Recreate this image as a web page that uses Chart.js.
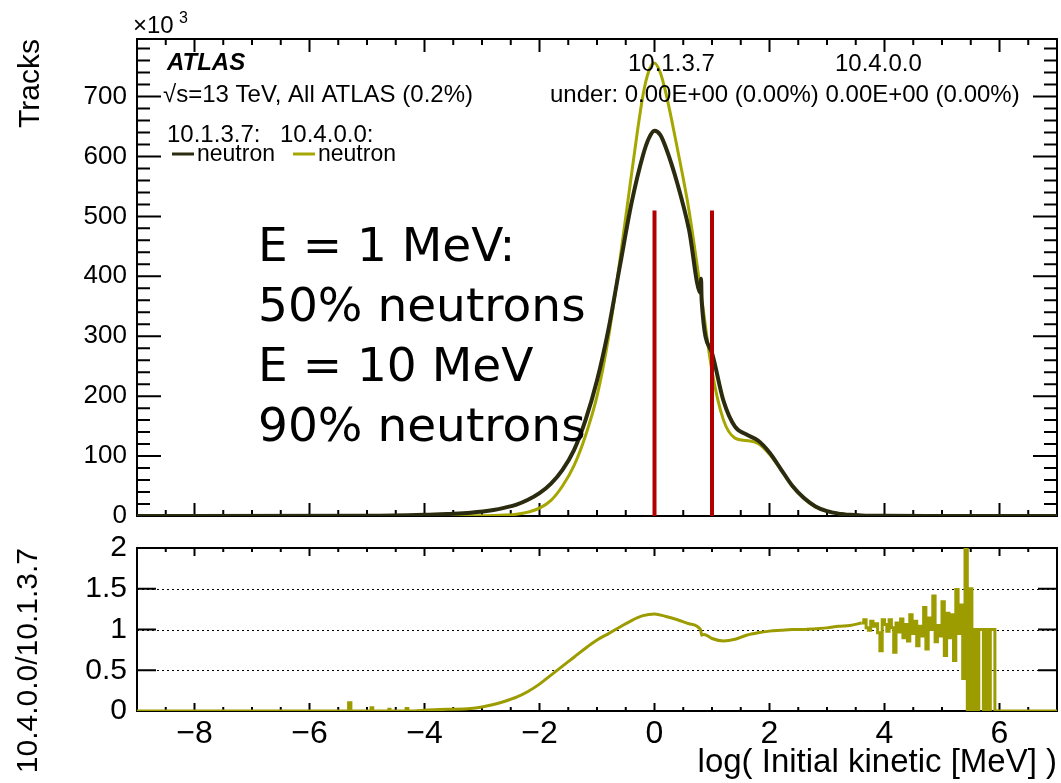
<!DOCTYPE html>
<html>
<head>
<meta charset="utf-8">
<title>neutron initial kinetic energy</title>
<script src="https://cdn.jsdelivr.net/npm/chart.js@4.4.1/dist/chart.umd.min.js"></script>
<style>
  html, body { margin: 0; padding: 0; background: #fff; }
  #wrap { position: relative; width: 1061px; height: 783px; overflow: hidden; }
  canvas { position: absolute; left: 0; }
  #main { top: 0; width: 1061px; height: 530px; }
  #ratio { top: 530px; width: 1061px; height: 253px; }
</style>
</head>
<body>
<div id="wrap">
  <canvas id="main" width="1061" height="530"></canvas>
  <canvas id="ratio" width="1061" height="253"></canvas>
</div>
<script>
// log10(E / MeV) sample points for the two releases
const logE = [-9, -5, -4, -3.6, -3.2, -2.8, -2.6, -2.4, -2.2, -2.0, -1.8, -1.6, -1.4, -1.2, -1.0,
  -0.8, -0.6, -0.4, -0.2, -0.1, 0, 0.1, 0.2, 0.4, 0.6, 0.8, 0.81, 0.82, 1.0, 1.2, 1.4, 1.6, 1.8,
  2.0, 2.2, 2.4, 2.6, 2.8, 3.0, 3.2, 3.4, 3.6, 4.0, 5.0, 7];
// tracks (x10^3)
const tracks10137 = [0, 0.3, 2, 3.5, 5.5, 10, 14, 19, 27, 38, 54, 77, 110, 160, 226,
  312, 418, 522, 602, 630, 643, 636, 614, 554, 478, 372, 396, 360, 272, 192, 149, 136, 126,
  106, 78, 50, 30, 16, 8, 4, 2, 1, 0.3, 0, 0];
const tracks10400 = [0, 0, 0.1, 0.2, 0.4, 0.9, 1.6, 3, 6.5, 13, 26, 50, 84, 134, 200,
  298, 428, 570, 702, 742, 756, 740, 705, 612, 510, 378, 371, 364, 242, 160, 130, 126, 121,
  103, 77, 49, 29, 15, 8, 4, 2, 1, 0.3, 0, 0];

// energy cut lines (E = 1 MeV, 10 MeV)
const cutLines = [0, 1];
const cutTop = 510;

// ratio 10.4.0.0 / 10.1.3.7
const ratioLowE = [-9, -5.32, -5.28, -4.93, -4.90, -4.62, -4.60, -4.32, -4.29, -4.2];
const ratioLow = [0, 0.1, 0, 0.04, 0, 0.02, 0, 0.03, 0, 0];
const ratioE = [-4.2, -4.0, -3.6, -3.2, -3.0, -2.8, -2.6, -2.4, -2.2, -2.0, -1.8, -1.6, -1.4, -1.2,
  -1.0, -0.8, -0.6, -0.4, -0.2, 0, 0.2, 0.4, 0.6, 0.8, 0.82, 0.86, 1.0, 1.2, 1.4, 1.6, 1.8, 2.0,
  2.2, 2.4, 2.6, 2.8, 3.0, 3.2, 3.4, 3.6];
const ratioVals = [0, 0.01, 0.02, 0.03, 0.05, 0.08, 0.12, 0.17, 0.24, 0.33, 0.44, 0.55, 0.66, 0.77,
  0.87, 0.95, 1.03, 1.11, 1.17, 1.19, 1.16, 1.12, 1.07, 1.0, 0.93, 0.94, 0.89, 0.86, 0.88, 0.93, 0.96, 0.98,
  0.99, 1.0, 1.0, 1.01, 1.02, 1.04, 1.05, 1.08];
const ratioNoiseE = [3.60, 3.64, 3.68, 3.72, 3.76, 3.80, 3.84, 3.88, 3.92, 3.96, 4.00, 4.04, 4.08, 4.12,
  4.16, 4.20, 4.24, 4.28, 4.32, 4.36, 4.40, 4.44, 4.48, 4.52, 4.56, 4.60, 4.64, 4.68, 4.72, 4.76, 4.80,
  4.84, 4.88, 4.92, 4.96, 5.00, 5.04, 5.08, 5.12, 5.16, 5.20, 5.24, 5.28, 5.32, 5.36, 5.40, 5.44, 5.48,
  5.52, 5.56, 5.60, 5.64, 5.68, 5.72, 5.76, 5.80, 5.84, 5.88, 5.92, 5.96, 7.00];
const ratioNoise = [1.08, 1.12, 1.02, 0.99, 1.10, 1.04, 1.07, 0.96, 0.74, 1.12, 1.06, 0.98, 1.12, 1.02,
  0.72, 1.08, 0.97, 1.13, 0.90, 1.06, 0.86, 1.18, 0.95, 1.10, 0.80, 1.04, 0.92, 1.27, 0.76, 1.14, 1.00,
  1.41, 0.85, 1.05, 0.92, 1.34, 0.68, 1.20, 0.90, 1.18, 0.62, 1.49, 0.95, 1.30, 0.40, 2.50, 0, 1.50,
  0, 1.00, 0, 1.00, 1.00, 0, 1.00, 0, 1.00, 1.00, 0, 0, 0];

// tick labels
const xTickLabels = [-8, -6, -4, -2, 0, 2, 4, 6];
const yTicksMain = [0, 100, 200, 300, 400, 500, 600, 700];
const yTicksRatio = [0, 0.5, 1, 1.5, 2];

const FONT = '"Liberation Sans", Arial, Helvetica, sans-serif';
const DARK = '#2b2b0f';
const OLIVE = '#a6a600';
const RATIO = '#9c9c00';
Chart.defaults.font.family = FONT;
Chart.defaults.color = '#000';

const pts = (xs, ys) => xs.map((x, i) => ({ x, y: ys[i] }));

// keep the chart area where we put it (no room reserved for half labels)
const noPad = s => { s.paddingTop = 0; s.paddingBottom = 0; s.paddingLeft = 0; s.paddingRight = 0; };

// ROOT style frame: box with inward ticks on all sides, optional dotted lines
const rootFrame = {
    id: 'rootFrame',
    beforeDatasetsDraw(chart, args, o) {
        const { ctx, chartArea: a, scales: { x, y } } = chart;
        ctx.save();
        if (o.grid) {
            ctx.strokeStyle = '#000';
            ctx.lineWidth = 1;
            ctx.setLineDash([2, 3]);
            o.grid.forEach(v => {
                const py = Math.round(y.getPixelForValue(v)) + 0.5;
                ctx.beginPath();
                ctx.moveTo(a.left, py);
                ctx.lineTo(a.right, py);
                ctx.stroke();
            });
            ctx.setLineDash([]);
        }
        ctx.strokeStyle = '#000';
        ctx.lineWidth = 2;
        ctx.beginPath();
        for (let v = x.min; v <= x.max + 1e-9; v += o.xStep) {
            const px = x.getPixelForValue(v);
            const major = Math.abs(v / o.xMajor - Math.round(v / o.xMajor)) < 1e-6;
            const len = major ? o.xLen[0] : o.xLen[1];
            ctx.moveTo(px, a.bottom); ctx.lineTo(px, a.bottom - len);
            ctx.moveTo(px, a.top); ctx.lineTo(px, a.top + len);
        }
        for (let v = y.min; v <= y.max + 1e-9; v += o.yStep) {
            const py = y.getPixelForValue(v);
            const major = Math.abs(v / o.yMajor - Math.round(v / o.yMajor)) < 1e-6;
            const len = major ? o.yLen[0] : o.yLen[1];
            ctx.moveTo(a.left, py); ctx.lineTo(a.left + len, py);
            ctx.moveTo(a.right, py); ctx.lineTo(a.right - len, py);
        }
        ctx.stroke();
        ctx.strokeRect(a.left, a.top, a.right - a.left, a.bottom - a.top);
        ctx.restore();
    }
};

const topTexts = {
    id: 'topTexts',
    afterDraw(chart) {
        const ctx = chart.ctx;
        ctx.save();
        ctx.fillStyle = '#000';
        ctx.textBaseline = 'alphabetic';
        ctx.font = '24px ' + FONT;
        ctx.fillText('\u00d710', 133, 33);
        ctx.font = '16px ' + FONT;
        ctx.fillText('3', 179, 23);

        ctx.font = 'italic bold 24px ' + FONT;
        ctx.fillText('ATLAS', 167, 70);
        ctx.font = '24px ' + FONT;
        ctx.fillText('\u221as=13 TeV, All ATLAS (0.2%)', 163, 102);
        ctx.fillText('10.1.3.7:', 167, 142);
        ctx.fillText('10.4.0.0:', 280, 142);
        ctx.fillText('10.1.3.7', 628, 71);
        ctx.fillText('10.4.0.0', 835, 71);
        ctx.fillText('under: 0.00E+00 (0.00%) 0.00E+00 (0.00%)', 550, 102);

        ctx.lineWidth = 3;
        ctx.strokeStyle = DARK;
        ctx.beginPath(); ctx.moveTo(172, 154); ctx.lineTo(194, 154); ctx.stroke();
        ctx.strokeStyle = OLIVE;
        ctx.beginPath(); ctx.moveTo(293, 154); ctx.lineTo(315, 154); ctx.stroke();
        ctx.font = '23px ' + FONT;
        ctx.fillText('neutron', 197, 161);
        ctx.fillText('neutron', 318, 161);

        ctx.font = '47px "DejaVu Sans", Verdana, sans-serif';
        ['E = 1 MeV:', '50% neutrons', 'E = 10 MeV', '90% neutrons'].forEach((t, i) => {
            ctx.fillText(t, 258, 261 + i * 60);
        });
        ctx.restore();
    }
};

const minusFmt = v => v < 0 ? '\u2212' + Math.abs(v) : String(v);

new Chart(document.getElementById('main'), {
    type: 'line',
    data: {
        datasets: [
            ...cutLines.map(c => ({
                label: 'cut ' + c,
                data: [{ x: c, y: 0 }, { x: c, y: cutTop }],
                borderColor: '#b00000',
                borderWidth: 4,
                order: 0
            })),
            {
                label: '10.1.3.7 neutron',
                data: pts(logE, tracks10137),
                borderColor: DARK,
                borderWidth: 4,
                cubicInterpolationMode: 'monotone',
                order: 1
            },
            {
                label: '10.4.0.0 neutron',
                data: pts(logE, tracks10400),
                borderColor: OLIVE,
                borderWidth: 3,
                cubicInterpolationMode: 'monotone',
                order: 2
            }
        ]
    },
    options: {
        responsive: false,
        animation: false,
        devicePixelRatio: 1,
        layout: { padding: { top: 39, right: 4, left: 0, bottom: 0 } },
        elements: { point: { radius: 0 } },
        plugins: {
            legend: { display: false },
            tooltip: { enabled: false },
            rootFrame: { xStep: 0.5, xMajor: 2, xLen: [13, 6], yStep: 20, yMajor: 100, yLen: [24, 13] }
        },
        scales: {
            x: {
                type: 'linear', min: -9, max: 7,
                grid: { display: false, drawTicks: false }, border: { display: false },
                ticks: { display: false },
                afterFit: s => { s.height = 14; noPad(s); }
            },
            y: {
                min: 0, max: 796,
                grid: { display: false, drawTicks: false }, border: { display: false },
                afterBuildTicks: s => { s.ticks = yTicksMain.map(v => ({ value: v })); },
                ticks: { font: { size: 26 }, padding: 10 },
                title: { display: true, text: 'Tracks', align: 'end', font: { size: 30 }, padding: { top: 13, bottom: 0 } },
                afterFit: s => { s.width = 137; noPad(s); }
            }
        }
    },
    plugins: [rootFrame, topTexts]
});

new Chart(document.getElementById('ratio'), {
    type: 'line',
    data: {
        datasets: [
            { label: 'low', data: pts(ratioLowE, ratioLow), borderColor: RATIO, borderWidth: 3, stepped: 'before' },
            { label: 'ratio', data: pts(ratioE, ratioVals), borderColor: RATIO, borderWidth: 3, cubicInterpolationMode: 'monotone' },
            { label: 'tail', data: pts(ratioNoiseE, ratioNoise), borderColor: RATIO, borderWidth: 3, stepped: 'before' }
        ]
    },
    options: {
        responsive: false,
        animation: false,
        devicePixelRatio: 1,
        layout: { padding: { top: 18, right: 4, left: 0, bottom: 0 } },
        elements: { point: { radius: 0 } },
        plugins: {
            legend: { display: false },
            tooltip: { enabled: false },
            rootFrame: { xStep: 0.5, xMajor: 2, xLen: [8, 4], yStep: 0.5, yMajor: 0.5, yLen: [19, 19], grid: [0.5, 1, 1.5] }
        },
        scales: {
            x: {
                type: 'linear', min: -9, max: 7,
                grid: { display: false, drawTicks: false }, border: { display: false },
                afterBuildTicks: s => { s.ticks = xTickLabels.map(v => ({ value: v })); },
                ticks: { font: { size: 32 }, padding: 4, maxRotation: 0, autoSkip: false, callback: minusFmt },
                title: { display: true, text: 'log( Initial kinetic [MeV] )', align: 'end', font: { size: 33 }, padding: { top: 0, bottom: 0 } },
                afterFit: s => { s.height = 72; noPad(s); }
            },
            y: {
                min: 0, max: 2,
                grid: { display: false, drawTicks: false }, border: { display: false },
                afterBuildTicks: s => { s.ticks = yTicksRatio.map(v => ({ value: v })); },
                ticks: { font: { size: 30 }, padding: 10, callback: v => String(v) },
                title: { display: true, text: '10.4.0.0/10.1.3.7', align: 'end', font: { size: 30 }, padding: { top: 11, bottom: 0 } },
                afterFit: s => { s.width = 137; noPad(s); }
            }
        }
    },
    plugins: [rootFrame]
});
</script>
</body>
</html>
